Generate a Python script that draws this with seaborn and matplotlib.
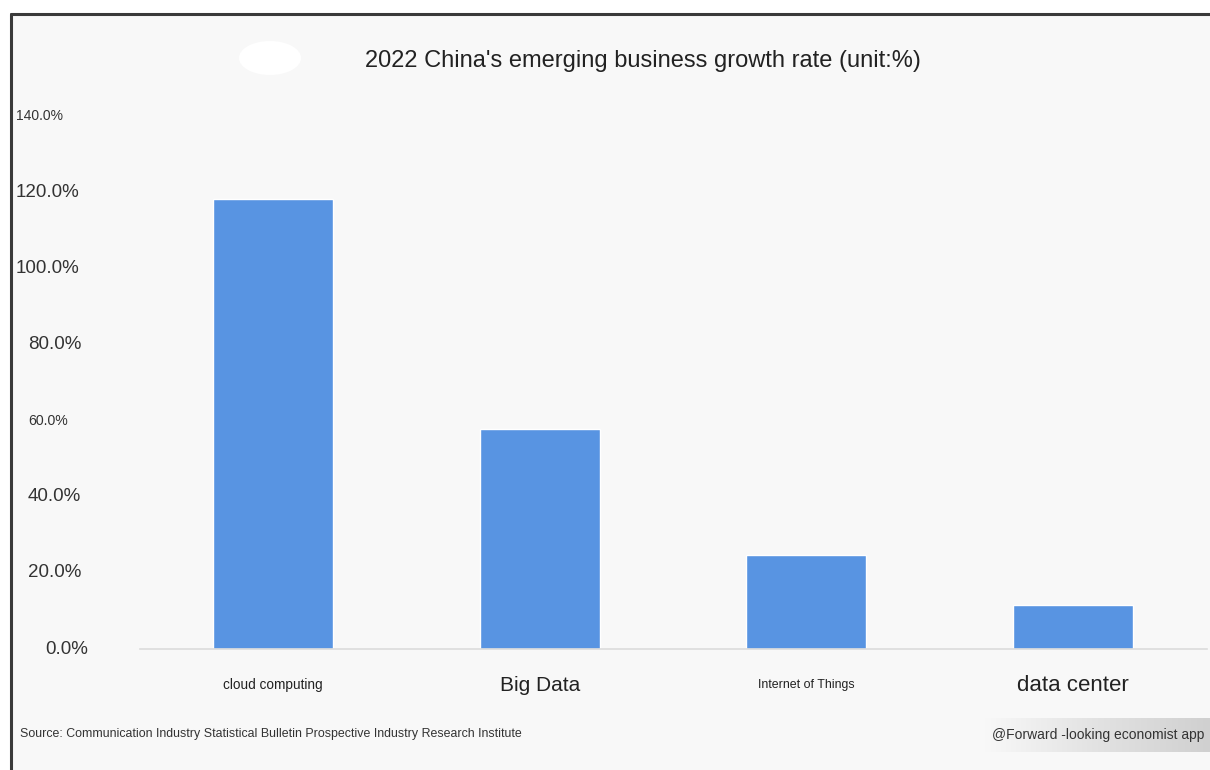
import matplotlib
matplotlib.use("Agg")
import matplotlib.pyplot as plt
import matplotlib.transforms as mtransforms
from matplotlib.patches import Ellipse, Rectangle
import numpy as np
import pandas as pd
import seaborn as sns

# Growth rate of emerging businesses, 2022 (%)
categories = ["cloud computing", "Big Data", "Internet of Things", "data center"]
growth = [118.2, 57.9, 24.6, 11.5]
category_sizes = [9.8, 15, 8.9, 16]

y_ticks = [0, 20, 40, 60, 80, 100, 120, 140]
y_tick_labels = ["0.0%", "20.0%", "40.0%", "60.0%", "80.0%", "100.0%", "120.0%", "140.0%"]
y_tick_sizes = [13.5, 13.5, 13.5, 10.2, 13.5, 13.5, 13.5, 10]
y_tick_x = [45, 28, 28, 28, 28, 16, 16, 16]   # left edge of each label, px

title = "2022 China's emerging business growth rate (unit:%)"
source = "Source: Communication Industry Statistical Bulletin Prospective Industry Research Institute"
credit = "@Forward -looking economist app"

df = pd.DataFrame({"category": categories, "growth": growth})

sns.set_theme(style="white")
plt.rcParams["font.family"] = ["Liberation Sans", "DejaVu Sans"]

W, H = 1210, 770
fig = plt.figure(figsize=(W / 100, H / 100), dpi=100)
fig.patch.set_facecolor("white")

# light grey card with a dark frame on top and left
card = Rectangle((11 / W, 0), 1 - 11 / W, 1 - 14 / H, transform=fig.transFigure,
                 facecolor="#f8f8f8", edgecolor="none", zorder=-10)
fig.patches.append(card)
fig.add_artist(plt.Line2D([11 / W, 1], [1 - 14 / H, 1 - 14 / H], transform=fig.transFigure,
                          color="#3a3a3a", lw=2.2, zorder=-5))
fig.add_artist(plt.Line2D([11 / W, 11 / W], [0, 1 - 14 / H], transform=fig.transFigure,
                          color="#3a3a3a", lw=2.2, zorder=-5))

ax_left, ax_right = 139.5, 1206.5
ax_top, ax_bottom = 116, 649
ax = fig.add_axes([ax_left / W, (H - ax_bottom) / H,
                   (ax_right - ax_left) / W, (ax_bottom - ax_top) / H])
ax.set_facecolor("none")

sns.barplot(data=df, x="category", y="growth", color="#5894e2", width=0.45,
            saturation=1, ax=ax)
ax.set_xlim(-0.5, len(categories) - 0.5)
ax.set_ylim(0, 140)
ax.set_xlabel("")
ax.set_ylabel("")

for side in ["top", "right", "left"]:
    ax.spines[side].set_visible(False)
ax.spines["bottom"].set_color("#dcdcdc")
ax.spines["bottom"].set_linewidth(1.2)

# category labels in mixed sizes
ax.set_xticks(range(len(categories)))
ax.set_xticklabels(categories)
ax.tick_params(axis="x", length=0, pad=26)
for lbl, fs in zip(ax.get_xticklabels(), category_sizes):
    lbl.set_fontsize(fs)
    lbl.set_verticalalignment("center")
    lbl.set_color("#222222")

# y labels placed at their own left offsets
ax.set_yticks([])
trans = mtransforms.blended_transform_factory(fig.transFigure, ax.transData)
for v, txt, fs, px in zip(y_ticks, y_tick_labels, y_tick_sizes, y_tick_x):
    ax.text(px / W, v, txt, transform=trans, ha="left", va="center",
            fontsize=fs, color="#333333", clip_on=False)

# title, with a white patch at its left
fig.add_artist(Ellipse((270 / W, 1 - 58 / H), 62 / W, 34 / H, transform=fig.transFigure,
                       facecolor="white", edgecolor="none", zorder=-5))
fig.text(643 / W, 1 - 61 / H, title, ha="center", va="center", fontsize=17,
         color="#222222")

# footer
fig.text(20 / W, 1 - 734 / H, source, ha="left", va="center", fontsize=8.9,
         color="#333333")
grad = np.linspace(0, 1, 256).reshape(1, -1)
gax = fig.add_axes([985 / W, 1 - 752 / H, (W - 985) / W, 34 / H], zorder=-4)
gax.imshow(grad, aspect="auto", cmap=matplotlib.colors.LinearSegmentedColormap.from_list(
    "g", ["#f8f8f8", "#e2e2e2", "#d0d0d0"]), extent=[0, 1, 0, 1])
gax.axis("off")
fig.text(1204 / W, 1 - 735 / H, credit, ha="right", va="center", fontsize=10,
         color="#333333")

fig.savefig("out.png", dpi=100)
